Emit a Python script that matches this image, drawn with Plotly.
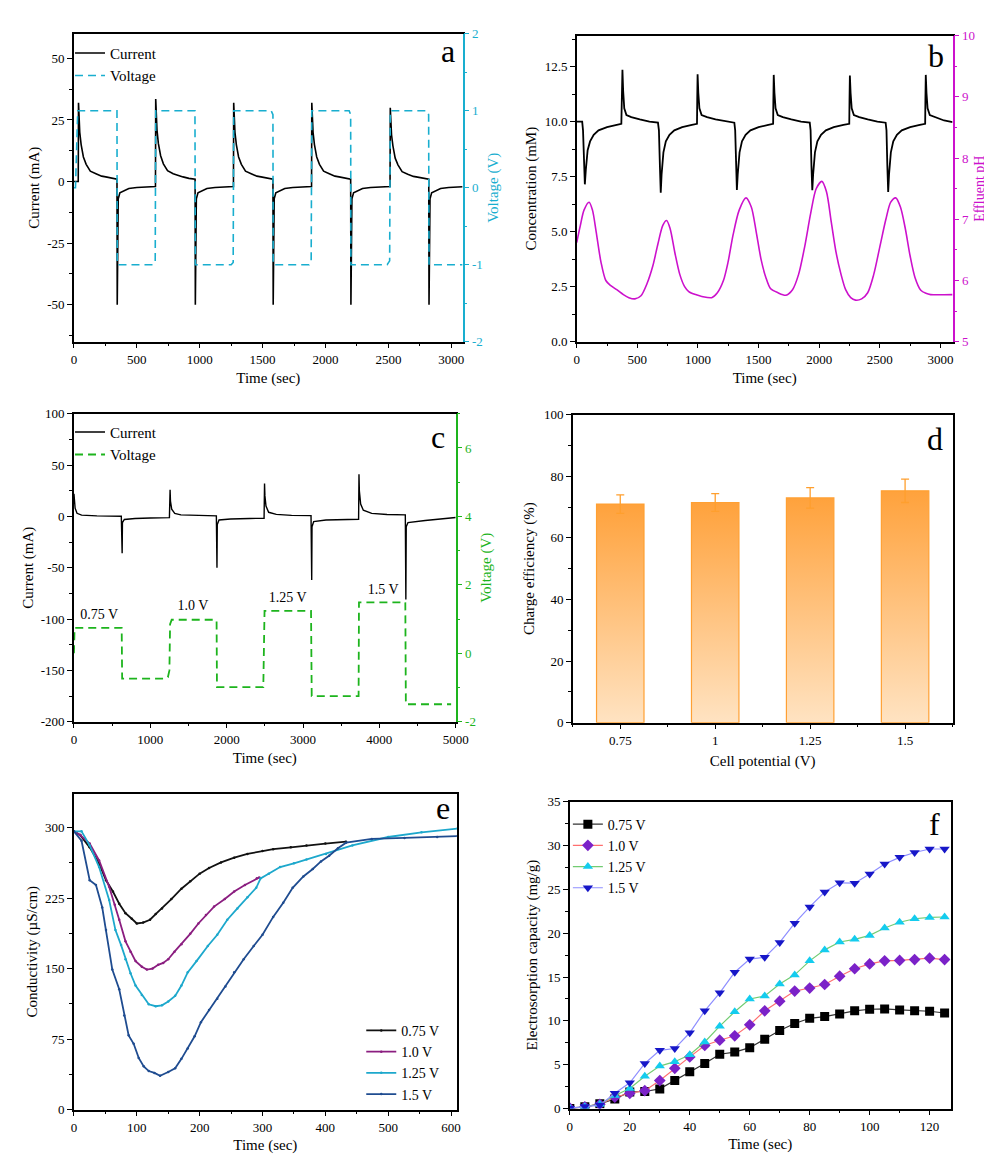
import plotly.graph_objects as go

# ---------------- DATA ----------------
# (a) current / voltage vs time
a_t = [0, 34, 36, 41, 46, 57, 75, 97, 130, 175, 220, 253, 300, 342,
       344, 347, 352, 365, 400, 436, 500, 592, 648,
       650, 655, 660, 671, 689, 711, 744, 789, 834, 867, 914, 963,
       965, 968, 973, 986, 1021, 1057, 1121, 1213, 1268,
       1270, 1275, 1280, 1291, 1309, 1331, 1364, 1409, 1454, 1487, 1534, 1582,
       1584, 1587, 1592, 1605, 1640, 1676, 1740, 1832, 1889,
       1891, 1896, 1901, 1912, 1930, 1952, 1985, 2030, 2075, 2108, 2155, 2200,
       2202, 2205, 2210, 2223, 2258, 2294, 2358, 2450, 2513,
       2515, 2520, 2525, 2536, 2554, 2576, 2609, 2654, 2699, 2732, 2779, 2821,
       2823, 2826, 2831, 2844, 2879, 2915, 2979, 3090]
a_current = [0, 0, 32, 25, 20, 15, 10, 7, 4.2, 3.2, 2.2, 1.9, 1.3, 1.0,
             -50, -20, -7, -4.6, -3.6, -2.8, -2.4, -2.1, -2.0,
             33.5, 26, 21, 15.5, 10.5, 7.2, 4.4, 3.2, 2.3, 1.9, 1.3, 1.0,
             -50, -20, -7, -4.6, -3.6, -2.8, -2.4, -2.1, -2.0,
             32, 25, 20, 15, 10, 7, 4.2, 3.2, 2.2, 1.9, 1.3, 1.0,
             -50, -20, -7, -4.6, -3.6, -2.8, -2.4, -2.1, -2.0,
             32, 25, 20, 15, 10, 7, 4.2, 3.2, 2.2, 1.9, 1.3, 1.0,
             -50, -20, -7, -4.6, -3.6, -2.8, -2.4, -2.1, -2.0,
             30, 24, 19, 14.5, 9.5, 6.8, 4.0, 3.0, 2.1, 1.8, 1.3, 1.0,
             -50, -20, -7, -4.6, -3.6, -2.8, -2.4, -2.1]
a_vt = [0, 12, 30, 342, 344, 628, 646, 650, 962, 965, 1250, 1266, 1270,
        1568, 1582, 1584, 1870, 1886, 1891, 2188, 2200, 2202, 2490, 2510,
        2515, 2808, 2820, 2823, 3090]
a_voltage = [0, 0, 1, 1, -1, -1, -0.97, 1, 1, -1, -1, -0.97, 1,
             1, 0.95, -1, -1, -0.95, 1, 1, 0.95, -1, -1, -0.95,
             1, 1, 0.95, -1, -1]
a_left_ticks = [-50, -25, 0, 25, 50]
a_left_text = ["-50", "-25", "0", "25", "50"]
a_right_ticks = [-2, -1, 0, 1, 2]
a_right_text = ["-2", "-1", "0", "1", "2"]

# (b) concentration and effluent pH
b_t = [0, 45, 52, 60, 67, 75, 90, 110, 140, 180, 250, 330, 368, 372, 377, 383, 392, 410, 450, 520, 600,
       670, 678, 686, 693, 700, 715, 735, 765, 805, 870, 950, 992, 994, 997, 1003, 1012, 1030, 1075, 1145, 1230,
       1300, 1307, 1314, 1321, 1328, 1343, 1363, 1393, 1433, 1500, 1580, 1620, 1622, 1625, 1631, 1640, 1658, 1700, 1770, 1850,
       1922, 1929, 1936, 1943, 1950, 1965, 1985, 2015, 2055, 2120, 2200, 2248, 2250, 2253, 2259, 2268, 2286, 2330, 2400, 2480,
       2548, 2555, 2562, 2569, 2576, 2591, 2611, 2641, 2681, 2750, 2830, 2874, 2876, 2879, 2885, 2894, 2912, 2960, 3030, 3100]
b_conc = [10.0, 10.0, 9.6, 8.2, 7.15, 7.8, 8.7, 9.1, 9.4, 9.6, 9.75, 9.85, 9.9, 11.0, 12.35, 11.4, 10.6, 10.3, 10.2, 10.1, 10.0,
          9.95, 9.6, 8.0, 6.77, 7.6, 8.6, 9.1, 9.4, 9.6, 9.75, 9.85, 9.9, 11.0, 12.15, 11.3, 10.6, 10.3, 10.2, 10.1, 10.0,
          9.95, 9.6, 8.0, 6.89, 7.6, 8.6, 9.1, 9.4, 9.6, 9.75, 9.85, 9.9, 11.0, 12.12, 11.3, 10.6, 10.3, 10.2, 10.1, 10.0,
          9.95, 9.6, 8.0, 6.88, 7.6, 8.6, 9.1, 9.4, 9.6, 9.75, 9.85, 9.9, 11.0, 12.09, 11.3, 10.6, 10.3, 10.2, 10.1, 10.0,
          9.95, 9.6, 8.0, 6.8, 7.6, 8.6, 9.1, 9.4, 9.6, 9.75, 9.85, 9.9, 11.0, 12.12, 11.3, 10.6, 10.3, 10.2, 10.05, 9.98]
b_pht = [0, 30, 60, 102, 130, 160, 200, 240, 278, 330, 385, 430, 480, 530, 580, 628, 670, 710, 741, 770, 810,
         850, 890, 924, 980, 1032, 1113, 1160, 1210, 1248, 1290, 1340, 1396, 1440, 1480, 1520, 1560, 1598, 1660,
         1725, 1780, 1830, 1880, 1930, 1975, 2022, 2060, 2100, 2140, 2180, 2218, 2260, 2299, 2350, 2400, 2450,
         2500, 2550, 2590, 2631, 2670, 2710, 2750, 2790, 2838, 2880, 2919, 3100]
b_ph = [6.62, 6.9, 7.15, 7.28, 7.15, 6.8, 6.3, 6.0, 5.92, 5.85, 5.77, 5.72, 5.70, 5.75, 5.95, 6.24, 6.6, 6.9, 6.98, 6.85, 6.45,
        6.1, 5.9, 5.82, 5.77, 5.74, 5.72, 5.8, 6.0, 6.3, 6.75, 7.15, 7.35, 7.2, 6.8, 6.35, 6.05, 5.87, 5.8,
        5.76, 5.85, 6.1, 6.55, 7.1, 7.5, 7.62, 7.45, 6.95, 6.45, 6.1, 5.85, 5.72, 5.68, 5.7, 5.8, 6.1,
        6.55, 7.0, 7.28, 7.35, 7.2, 6.85, 6.4, 6.05, 5.84, 5.79, 5.77, 5.77]

# (c) current / voltage at different cell potentials
c_t = [0, 5, 15, 40, 100, 300, 620, 631, 635, 660, 800, 1000, 1250,
       1259, 1264, 1280, 1320, 1400, 1600, 1865, 1873, 1877, 1900, 2050, 2300, 2490,
       2496, 2501, 2515, 2550, 2650, 2850, 3105, 3114, 3118, 3140, 3300, 3550, 3728,
       3733, 3738, 3755, 3790, 3900, 4100, 4340, 4347, 4352, 4375, 4600, 4850, 5000]
c_current = [22, 15, 8, 3, 1.2, 0.5, 0.2, -36, -6, -3, -2, -1.5, -1.2,
             26, 15, 7, 3, 1.5, 0.8, 0.5, -50, -8, -3.5, -2.5, -2, -1.8,
             32, 20, 10, 4, 2, 1, 0.8, -62, -10, -5, -3.5, -3, -2.8,
             41, 25, 12, 6, 3, 1.8, 1.5, -81, -10, -6, -4, -2, -1]
c_vt = [0, 8, 625, 631, 1180, 1230, 1250, 1259, 1280, 1850, 1868, 1873, 2480, 2496,
        3105, 3114, 3728, 3733, 4340, 4347, 4940]
c_voltage = [0.0, 0.74, 0.74, -0.74, -0.74, -0.7, -0.5, 0.85, 0.98, 0.98, 0.95, -0.99, -0.99, 1.24,
             1.24, -1.25, -1.25, 1.49, 1.49, -1.49, -1.49]
c_labels = ["0.75 V", "1.0 V", "1.25 V", "1.5 V"]
c_label_x = [330, 1560, 2800, 4050]
c_label_y = [-97, -88, -80, -72]
c_left_ticks = [-200, -150, -100, -50, 0, 50, 100]
c_left_text = ["-200", "-150", "-100", "-50", "0", "50", "100"]
c_right_ticks = [-2, 0, 2, 4, 6]
c_right_text = ["-2", "0", "2", "4", "6"]

# (d) charge efficiency
d_pot = [0.75, 1.0, 1.25, 1.5]
d_pot_text = ["0.75", "1", "1.25", "1.5"]
d_eff = [71.0, 71.5, 73.0, 75.3]
d_err = [3.0, 2.9, 3.3, 3.8]

# (e) conductivity
e_series = ["0.75 V", "1.0 V", "1.25 V", "1.5 V"]
e_t075 = [0, 10, 25, 40, 51, 62, 72, 82, 92, 100, 110, 121, 130, 140, 155, 171, 185, 200, 215, 234, 255, 276, 300, 317, 345, 370, 400, 433]
e_c075 = [296, 292, 279, 262, 244, 232, 219, 209, 203, 198, 199, 202, 208, 214, 224, 235, 243, 251, 257, 263, 268, 272, 275, 277, 279, 281, 283, 285]
e_t100 = [0, 10, 25, 40, 56, 65, 72, 82, 90, 98, 108, 116, 125, 134, 142, 150, 160, 171, 185, 198, 210, 223, 240, 255, 272, 291, 295]
e_c100 = [296, 292, 283, 265, 237, 218, 202, 179, 168, 158, 152, 149, 150, 154, 156, 160, 168, 176, 187, 198, 207, 216, 224, 232, 239, 246, 247]
e_t125 = [0, 12, 25, 40, 56, 66, 75, 82, 90, 98, 108, 119, 130, 140, 150, 161, 171, 181, 195, 213, 228, 244, 260, 276, 290, 297, 310, 328, 350, 370, 401, 443, 500, 553, 610]
e_c125 = [296, 296, 281, 258, 223, 191, 175, 160, 145, 132, 122, 112, 110, 111, 115, 121, 132, 146, 158, 174, 186, 202, 214, 226, 236, 246, 251, 258, 262, 266, 272, 281, 290, 295, 299]
e_t150 = [0, 12, 25, 35, 45, 51, 61, 72, 80, 87, 95, 103, 111, 119, 128, 137, 150, 161, 171, 181, 192, 202, 215, 228, 241, 255, 270, 286, 300, 317, 333, 348, 365, 380, 393, 406, 420, 433, 474, 526, 578, 610]
e_c150 = [296, 286, 244, 239, 215, 191, 149, 128, 100, 79, 70, 55, 46, 41, 39, 36, 40, 44, 54, 65, 78, 93, 106, 118, 131, 146, 160, 174, 186, 205, 220, 236, 248, 256, 264, 270, 278, 284, 288, 289, 290, 291]

# (f) electrosorption capacity
f_t = [0, 5, 10, 15, 20, 25, 30, 35, 40, 45, 50, 55, 60, 65, 70, 75, 80, 85, 90, 95, 100, 105, 110, 115, 120, 125]
f_075 = [0.0, 0.2, 0.55, 1.1, 1.9, 1.95, 2.25, 3.2, 4.2, 5.15, 6.2, 6.45, 6.95, 7.9, 8.9, 9.7, 10.3, 10.5, 10.8, 11.15, 11.33, 11.37, 11.25, 11.15, 11.1, 10.9]
f_100 = [0.05, 0.2, 0.5, 1.3, 1.75, 2.05, 3.2, 4.6, 5.9, 7.2, 7.8, 8.3, 9.55, 11.15, 12.25, 13.4, 13.75, 14.15, 15.1, 15.95, 16.5, 16.85, 16.9, 17.0, 17.15, 17.0]
f_125 = [0.05, 0.2, 0.5, 1.5, 2.3, 3.7, 4.85, 5.35, 6.15, 7.6, 9.4, 11.05, 12.5, 12.85, 14.2, 15.25, 16.85, 18.1, 19.0, 19.3, 19.75, 20.6, 21.25, 21.65, 21.8, 21.85]
f_150 = [0.05, 0.25, 0.4, 1.75, 2.95, 5.15, 6.65, 6.85, 8.65, 11.15, 13.2, 15.55, 17.05, 17.25, 18.95, 21.15, 23.0, 24.7, 25.75, 25.7, 26.75, 27.9, 28.65, 29.2, 29.6, 29.6]

# ---------------- STYLE / LAYOUT ----------------
W, H = 992, 1156
FONT = "Liberation Serif, Times New Roman, serif"
CYAN = "#19AECF"
MAG = "#CC11CC"
GREEN = "#1DB41D"


def xd(l, r):
    return [l / W, r / W]


def yd(t, b):
    return [1 - b / H, 1 - t / H]


def axis(color="black", mirror=True, **kw):
    d = dict(showline=True, linecolor=color, linewidth=1.5, mirror=mirror,
             ticks="outside", ticklen=5, tickwidth=1.2, tickcolor=color,
             tickfont=dict(family=FONT, size=13, color=color),
             showgrid=False, zeroline=False,
             title_font=dict(family=FONT, size=15, color=color))
    d.update(kw)
    return d


def minor(dtick, tick0=0, color="black"):
    return dict(ticks="outside", ticklen=3, tickwidth=1.2, tickcolor=color,
                dtick=dtick, tick0=tick0, tickmode="linear", showgrid=False)


fig = go.Figure()

# (a)
fig.add_trace(go.Scatter(x=a_t, y=a_current, mode="lines", name="Current",
                         line=dict(color="black", width=1.6), xaxis="x", yaxis="y", legend="legend"))
fig.add_trace(go.Scatter(x=a_vt, y=a_voltage, mode="lines", name="Voltage",
                         line=dict(color=CYAN, width=1.6, dash="8px,5px"), xaxis="x", yaxis="y2", legend="legend"))
# (b)
fig.add_trace(go.Scatter(x=b_t, y=b_conc, mode="lines", name="Concentration", showlegend=False,
                         line=dict(color="black", width=1.8), xaxis="x2", yaxis="y3"))
fig.add_trace(go.Scatter(x=b_pht, y=b_ph, mode="lines", name="Effluent pH", showlegend=False,
                         line=dict(color=MAG, width=1.6, shape="spline", smoothing=0.8), xaxis="x2", yaxis="y4"))
# (c)
fig.add_trace(go.Scatter(x=c_t, y=c_current, mode="lines", name="Current",
                         line=dict(color="black", width=1.4), xaxis="x3", yaxis="y5", legend="legend2"))
fig.add_trace(go.Scatter(x=c_vt, y=c_voltage, mode="lines", name="Voltage",
                         line=dict(color=GREEN, width=1.8, dash="8px,5px"), xaxis="x3", yaxis="y6", legend="legend2"))
fig.add_trace(go.Scatter(x=c_label_x, y=c_label_y, mode="text", text=c_labels, showlegend=False,
                         textfont=dict(family=FONT, size=14, color="black"), xaxis="x3", yaxis="y5"))
# (d) bars with vertical gradient
BW = 0.125
for p, v in zip(d_pot, d_eff):
    fig.add_trace(go.Scatter(x=[p - BW / 2, p - BW / 2, p + BW / 2, p + BW / 2, p - BW / 2],
                             y=[0, v, v, 0, 0], mode="lines", fill="toself", showlegend=False,
                             line=dict(color="#FFA033", width=1.2),
                             fillgradient=dict(type="vertical",
                                               colorscale=[[0, "#FFE3C2"], [1, "#FFA23C"]]),
                             xaxis="x4", yaxis="y7", hoverinfo="skip"))
fig.add_trace(go.Scatter(x=d_pot, y=d_eff, mode="markers", showlegend=False,
                         marker=dict(size=1, color="rgba(0,0,0,0)"),
                         error_y=dict(type="data", array=d_err, color="#FF9F2E", thickness=1.3, width=4),
                         xaxis="x4", yaxis="y7"))
# (e)
e_colors = ["#111111", "#8B1E80", "#1DA8CC", "#1F4C90"]
for name, tx, cy, col in zip(e_series, [e_t075, e_t100, e_t125, e_t150],
                             [e_c075, e_c100, e_c125, e_c150], e_colors):
    fig.add_trace(go.Scatter(x=tx, y=cy, mode="lines+markers", name=name,
                             line=dict(color=col, width=1.8), marker=dict(size=2.5, color=col),
                             xaxis="x5", yaxis="y8", legend="legend3"))
# (f)
f_line_colors = ["#333333", "#FF6F6F", "#72CC72", "#8E8EFF"]
f_marker_colors = ["#000000", "#7B22C8", "#14CCEE", "#1717C8"]
f_symbols = ["square", "diamond", "triangle-up", "triangle-down"]
for name, yy, lc, mc, sym in zip(e_series, [f_075, f_100, f_125, f_150],
                                 f_line_colors, f_marker_colors, f_symbols):
    fig.add_trace(go.Scatter(x=f_t, y=yy, mode="lines+markers", name=name,
                             line=dict(color=lc, width=1.2),
                             marker=dict(symbol=sym, size=9, color=mc),
                             xaxis="x6", yaxis="y9", legend="legend4"))

leg_common = dict(bgcolor="rgba(0,0,0,0)", borderwidth=0, xanchor="left", yanchor="top",
                  tracegroupgap=0)

layout = dict(
    width=W, height=H, margin=dict(l=0, r=0, t=0, b=0),
    paper_bgcolor="white", plot_bgcolor="white",
    font=dict(family=FONT, size=13, color="black"),
    # (a)
    xaxis=axis(domain=xd(64, 459), anchor="y", range=[0, 3090], dtick=500, tick0=0,
               minor=minor(250), title=dict(text="Time (sec)", standoff=6)),
    yaxis=axis(domain=yd(19, 331), anchor="x", mirror=False, range=[-65, 60],
               tickmode="array", tickvals=a_left_ticks, ticktext=a_left_text,
               minor=minor(12.5), title=dict(text="Current (mA)", standoff=4)),
    yaxis2=axis(color=CYAN, mirror=False, overlaying="y", side="right", anchor="x",
                range=[-2, 2], tickmode="array", tickvals=a_right_ticks, ticktext=a_right_text,
                minor=minor(0.5, color=CYAN), title=dict(text="Voltage (V)", standoff=6)),
    # (b)
    xaxis2=axis(domain=xd(575, 957), anchor="y3", range=[0, 3100], dtick=500, tick0=0,
                minor=minor(250), title=dict(text="Time (sec)", standoff=6)),
    yaxis3=axis(domain=yd(21, 331), anchor="x2", mirror=False, range=[0, 13.9], dtick=2.5,
                tick0=0, tickformat=".1f", minor=minor(1.25),
                title=dict(text="Concentration (mM)", standoff=4)),
    yaxis4=axis(color=MAG, mirror=False, overlaying="y3", side="right", anchor="x2",
                range=[5, 10], dtick=1, tick0=5, minor=minor(0.5, color=MAG),
                title=dict(text="Effluent pH", standoff=0, font=dict(family=FONT, size=14, color=MAG))),
    # (c)
    xaxis3=axis(domain=xd(64, 452), anchor="y5", range=[0, 5000], dtick=1000, tick0=0,
                minor=minor(500), title=dict(text="Time (sec)", standoff=6)),
    yaxis5=axis(domain=yd(404, 716), anchor="x3", mirror=False, range=[-200, 100],
                tickmode="array", tickvals=c_left_ticks, ticktext=c_left_text,
                minor=minor(25), title=dict(text="Current (mA)", standoff=4)),
    yaxis6=axis(color=GREEN, mirror=False, overlaying="y5", side="right", anchor="x3",
                range=[-2, 7], tickmode="array", tickvals=c_right_ticks, ticktext=c_right_text,
                minor=minor(1, color=GREEN), title=dict(text="Voltage (V)", standoff=6)),
    # (d)
    xaxis4=axis(domain=xd(571, 957), anchor="y7", range=[0.625, 1.625],
                tickmode="array", tickvals=d_pot, ticktext=d_pot_text,
                minor=minor(0.25, tick0=0.625), title=dict(text="Cell potential (V)", standoff=8)),
    yaxis7=axis(domain=yd(405, 717), anchor="x4", range=[0, 100], dtick=20, tick0=0,
                minor=minor(10), title=dict(text="Charge efficiency (%)", standoff=6)),
    # (e)
    xaxis5=axis(domain=xd(64, 453), anchor="y8", range=[0, 609], dtick=100, tick0=0,
                minor=minor(50), title=dict(text="Time (sec)", standoff=6)),
    yaxis8=axis(domain=yd(789, 1109), anchor="x5", range=[0, 336], dtick=75, tick0=0,
                minor=minor(37.5), title=dict(text="Conductivity (µS/cm)", standoff=4)),
    # (f)
    xaxis6=axis(domain=xd(568, 955), anchor="y9", range=[0, 127], dtick=20, tick0=0,
                minor=minor(10), title=dict(text="Time (sec)", standoff=6)),
    yaxis9=axis(domain=yd(797, 1108), anchor="x6", range=[0, 35], dtick=5, tick0=0,
                minor=minor(2.5), title=dict(text="Electrosorption capacity (mg/g)", standoff=6)),
    legend=dict(x=60 / W, y=1 - 22 / H, font=dict(family=FONT, size=15), **leg_common),
    legend2=dict(x=60 / W, y=1 - 406 / H, font=dict(family=FONT, size=15), **leg_common),
    legend3=dict(x=356 / W, y=1 - 1013 / H, font=dict(family=FONT, size=14), **leg_common),
    legend4=dict(x=566 / W, y=1 - 804 / H, font=dict(family=FONT, size=14), **leg_common),
)
fig.update_layout(**layout)

letters = [("a", 444, 36), ("b", 940, 42), ("c", 434, 428), ("d", 939, 430), ("e", 439, 803), ("f", 939, 820)]
for txt, px, py in letters:
    fig.add_annotation(text=txt, x=px / W, y=1 - py / H, xref="paper", yref="paper",
                       showarrow=False, xanchor="center", yanchor="middle",
                       font=dict(family=FONT, size=32, color="black"))

fig.write_html("out.html")
